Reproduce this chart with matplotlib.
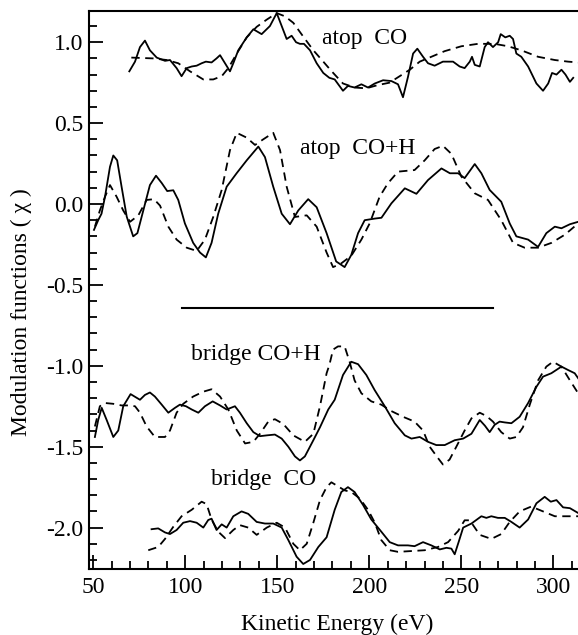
# modulation functions chi(E), atop / bridge CO and CO+H
import matplotlib
matplotlib.use("Agg")
import matplotlib.pyplot as plt
from matplotlib.ticker import MultipleLocator

plt.rcParams["font.family"] = ["Liberation Serif", "DejaVu Serif"]
plt.rcParams["font.size"] = 17
plt.rcParams["lines.scale_dashes"] = False
plt.rcParams["axes.unicode_minus"] = False

# atop CO
atop_co_exp_e = [69.6, 72.7, 75.4, 78.1, 80.8, 84.5, 89.0, 91.7, 95.3, 98.0, 100.8, 103.5, 106.2, 108.9,
                 111.2, 114.3, 117.0, 118.9, 121.6, 124.3, 126.1, 128.8, 133.4, 137.0, 141.5, 146.0,
                 149.7, 152.4, 155.1, 157.8, 160.2, 162.3, 164.5, 167.8, 171.4, 175.0, 178.3, 181.2,
                 185.7, 188.4, 192.0, 195.7, 199.3, 203.0, 207.5, 212.0, 215.6, 218.3, 221.0, 223.8,
                 226.1, 229.2, 231.9, 235.5, 240.0, 245.5, 249.1, 251.8, 254.6, 255.8, 257.3, 260.0,
                 262.7, 264.5, 267.2, 270.0, 271.4, 273.9, 276.3, 278.1, 279.9, 282.6, 286.3, 290.8,
                 294.4, 297.2, 299.3, 301.7, 304.4, 306.6, 309.0, 310.8]
atop_co_exp = [0.82, 0.88, 0.97, 1.01, 0.95, 0.905, 0.885, 0.89, 0.84, 0.79, 0.84, 0.85, 0.855, 0.87,
               0.88, 0.875, 0.90, 0.92, 0.87, 0.82, 0.87, 0.95, 1.03, 1.08, 1.05, 1.10,
               1.18, 1.10, 1.02, 1.04, 1.00, 0.99, 0.99, 0.95, 0.87, 0.81, 0.78, 0.77,
               0.70, 0.73, 0.72, 0.74, 0.72, 0.745, 0.765, 0.76, 0.74, 0.66, 0.785, 0.93,
               0.96, 0.91, 0.87, 0.855, 0.88, 0.88, 0.85, 0.84, 0.88, 0.91, 0.86, 0.85,
               0.97, 1.00, 0.97, 1.00, 1.05, 1.03, 1.04, 1.02, 0.93, 0.91, 0.85, 0.745,
               0.70, 0.745, 0.81, 0.80, 0.83, 0.80, 0.755, 0.78]
atop_co_th_e = [70.7, 82.5, 89.9, 96.2, 102.6, 109.8, 115.2, 119.8, 123.4, 128.0, 133.4, 138.8, 144.3,
                149.7, 154.2, 158.7, 164.1, 169.6, 175.0, 178.8, 181.2, 185.7, 192.0, 198.3, 204.6,
                211.0, 216.5, 222.0, 227.4, 233.7, 241.0, 250.0, 259.0, 268.1, 275.4, 282.6, 291.7,
                300.8, 308.0, 313.5]
atop_co_th = [0.905, 0.90, 0.89, 0.87, 0.82, 0.77, 0.77, 0.79, 0.84, 0.93, 1.03, 1.095, 1.14,
              1.18, 1.16, 1.12, 1.035, 0.95, 0.88, 0.83, 0.80, 0.745, 0.72, 0.715, 0.735,
              0.75, 0.79, 0.83, 0.88, 0.91, 0.945, 0.975, 0.99, 0.99, 0.975, 0.95, 0.91,
              0.89, 0.88, 0.875]

# atop CO+H
atop_coh_exp_e = [50.4, 52.7, 54.5, 56.4, 59.1, 60.9, 63.0, 65.4, 68.2, 71.7, 74.0, 77.2, 80.8, 84.1,
                  87.2, 90.2, 93.5, 96.2, 99.8, 104.3, 108.0, 111.2, 114.3, 117.9, 122.5, 127.9,
                  133.4, 139.7, 143.3, 147.8, 152.4, 156.9, 161.4, 166.8, 171.4, 176.8, 182.0,
                  186.6, 190.2, 193.9, 197.5, 203.0, 206.6, 212.0, 219.3, 225.6, 231.9, 239.2,
                  243.8, 248.3, 251.8, 257.3, 260.9, 265.4, 271.7, 276.3, 279.9, 286.3, 291.7,
                  296.2, 300.8, 304.4, 309.0, 313.5]
atop_coh_exp = [-0.16, -0.10, -0.06, 0.045, 0.23, 0.30, 0.27, 0.107, -0.078, -0.20, -0.18, -0.04, 0.117,
                0.175, 0.13, 0.08, 0.085, 0.025, -0.12, -0.24, -0.30, -0.33, -0.24, -0.06, 0.107,
                0.19, 0.27, 0.355, 0.29, 0.107, -0.06, -0.125, -0.04, 0.03, -0.02, -0.18, -0.355,
                -0.39, -0.315, -0.18, -0.10, -0.09, -0.085, 0.004, 0.097, 0.063, 0.148, 0.22,
                0.19, 0.19, 0.16, 0.247, 0.19, 0.087, 0.014, -0.12, -0.20, -0.22, -0.265,
                -0.18, -0.14, -0.15, -0.125, -0.11]
atop_coh_th_e = [50.9, 53.6, 56.4, 59.1, 62.7, 66.3, 70.0, 74.5, 79.0, 83.0, 86.3, 90.8, 95.3, 100.8,
                 106.2, 110.7, 115.2, 119.8, 124.3, 128.0, 133.4, 137.9, 142.4, 147.8, 151.5, 155.1,
                 159.6, 166.0, 171.4, 176.8, 180.3, 184.4, 190.2, 195.7, 200.2, 205.6, 210.1,
                 215.6, 224.6, 230.1, 235.5, 240.0, 244.6, 250.0, 257.3, 264.5, 271.7, 278.1,
                 284.4, 291.7, 299.0, 306.2, 313.5]
atop_coh_th = [-0.14, -0.04, 0.045, 0.117, 0.045, -0.04, -0.11, -0.07, 0.025, 0.03, -0.01, -0.14, -0.22,
               -0.27, -0.29, -0.22, -0.08, 0.087, 0.333, 0.44, 0.41, 0.365, 0.40, 0.44, 0.333, 0.107,
               -0.08, -0.07, -0.14, -0.30, -0.39, -0.37, -0.32, -0.22, -0.12, 0.045, 0.128,
               0.20, 0.21, 0.27, 0.34, 0.36, 0.31, 0.17, 0.066, 0.025, -0.10, -0.24,
               -0.27, -0.27, -0.24, -0.19, -0.12]

# bridge CO+H
br_coh_exp_e = [50.9, 52.7, 54.6, 57.3, 60.9, 63.6, 66.3, 70.3, 73.2, 75.4, 78.1, 80.8, 83.5, 87.2,
                90.8, 94.4, 97.1, 100.4, 103.5, 107.1, 110.7, 114.9, 118.9, 122.5, 127.0, 129.7,
                133.4, 137.0, 140.6, 144.3, 148.7, 152.4, 156.0, 159.6, 162.3, 165.0, 169.6, 173.2,
                177.7, 181.2, 185.7, 190.2, 193.9, 198.4, 202.9, 208.4, 213.8, 219.3, 222.9, 227.4,
                231.9, 236.4, 241.0, 246.4, 251.0, 255.5, 260.0, 262.8, 265.4, 268.1, 270.8, 273.6,
                277.2, 281.7, 286.3, 290.8, 294.4, 298.9, 304.4, 308.0, 311.6, 313.5]
br_coh_exp = [-1.44, -1.335, -1.26, -1.335, -1.44, -1.40, -1.25, -1.175, -1.195, -1.21, -1.18, -1.165,
              -1.19, -1.24, -1.29, -1.26, -1.24, -1.25, -1.27, -1.29, -1.25, -1.22, -1.245, -1.27,
              -1.25, -1.29, -1.355, -1.41, -1.435, -1.43, -1.425, -1.45, -1.50, -1.56, -1.585,
              -1.56, -1.46, -1.38, -1.27, -1.21, -1.057, -0.975, -0.99, -1.057, -1.15, -1.25,
              -1.355, -1.43, -1.45, -1.44, -1.47, -1.49, -1.49, -1.46, -1.45, -1.42, -1.335,
              -1.37, -1.41, -1.365, -1.345, -1.35, -1.355, -1.315, -1.23, -1.13, -1.067, -1.046,
              -1.005, -1.026, -1.046, -1.077]
br_coh_th_e = [50.9, 53.6, 56.4, 60.9, 65.4, 69.0, 72.7, 75.4, 79.0, 83.5, 89.0, 91.7, 95.3, 98.9,
               104.3, 109.8, 114.3, 118.9, 123.4, 128.0, 132.5, 137.0, 140.6, 145.1, 148.7, 153.3,
               158.7, 165.0, 169.6, 173.2, 176.8, 178.3, 180.3, 183.0, 186.6, 189.3, 192.0, 195.7,
               201.1, 206.5, 212.0, 218.3, 224.6, 229.2, 232.8, 237.3, 240.0, 243.6, 247.3, 251.8,
               255.5, 260.0, 263.6, 267.2, 271.7, 276.3, 279.9, 283.5, 287.2, 291.7, 296.2, 299.8,
               304.4, 309.0, 313.5]
br_coh_th = [-1.375, -1.25, -1.23, -1.235, -1.245, -1.245, -1.25, -1.29, -1.375, -1.44, -1.44, -1.40,
             -1.29, -1.235, -1.19, -1.16, -1.145, -1.19, -1.27, -1.40, -1.48, -1.47, -1.42, -1.345,
             -1.33, -1.36, -1.43, -1.47, -1.42, -1.25, -1.046, -0.995, -0.90, -0.88, -0.88, -0.975,
             -1.09, -1.17, -1.22, -1.24, -1.28, -1.315, -1.345, -1.40, -1.50, -1.57, -1.61, -1.58,
             -1.50, -1.40, -1.325, -1.29, -1.31, -1.345, -1.41, -1.45, -1.44, -1.38, -1.24, -1.09,
             -1.005, -0.975, -1.005, -1.09, -1.17]

# bridge CO
br_co_exp_e = [81.7, 85.3, 89.0, 91.7, 95.3, 98.9, 102.6, 106.2, 109.8, 112.5, 114.3, 117.0, 119.8,
               122.5, 126.1, 130.6, 134.2, 138.8, 143.3, 147.8, 152.4, 156.0, 160.5, 164.1, 167.8,
               172.3, 176.8, 181.2, 184.8, 188.4, 192.0, 196.6, 201.1, 206.5, 211.1, 215.6, 221.0,
               224.6, 229.2, 233.7, 238.3, 241.9, 244.6, 246.4, 248.8, 251.0, 255.5, 260.9, 263.6,
               266.3, 269.9, 273.6, 277.2, 281.7, 286.3, 290.8, 295.3, 298.6, 301.7, 305.3, 309.0,
               313.5]
br_co_exp = [-2.01, -2.005, -2.03, -2.04, -2.015, -1.97, -1.96, -1.97, -2.0, -1.953, -1.945, -2.015,
             -1.98, -2.0, -1.93, -1.90, -1.915, -1.965, -1.975, -1.975, -2.0, -2.077, -2.18, -2.225,
             -2.20, -2.12, -2.06, -1.89, -1.78, -1.75, -1.78, -1.86, -1.95, -2.025, -2.09, -2.11,
             -2.11, -2.115, -2.09, -2.11, -2.135, -2.125, -2.13, -2.165, -2.08, -2.0, -1.975,
             -1.93, -1.94, -1.93, -1.94, -1.94, -1.965, -2.0, -1.95, -1.85, -1.81, -1.84, -1.83,
             -1.875, -1.88, -1.91]
br_co_th_e = [79.9, 85.3, 89.0, 93.5, 98.0, 103.5, 108.9, 111.6, 114.3, 117.9, 121.6, 126.1, 129.7,
              134.2, 138.8, 144.3, 149.7, 154.2, 158.7, 162.3, 166.0, 169.6, 173.2, 176.8, 179.4,
              183.0, 186.6, 190.2, 194.8, 199.3, 203.0, 206.5, 211.1, 215.6, 222.9, 230.1, 237.3,
              242.8, 248.3, 251.8, 254.6, 260.0, 266.3, 271.7, 276.3, 281.7, 288.0, 294.4, 300.8,
              308.0, 313.5]
br_co_th = [-2.14, -2.12, -2.07, -1.995, -1.93, -1.89, -1.84, -1.855, -1.95, -2.025, -2.065, -2.015,
            -1.985, -2.0, -2.045, -2.0, -1.97, -2.0, -2.10, -2.14, -2.10, -1.97, -1.83, -1.75, -1.72,
            -1.745, -1.77, -1.78, -1.82, -1.89, -1.97, -2.077, -2.14, -2.15, -2.145, -2.14, -2.12,
            -2.09, -2.02, -1.955, -1.955, -2.045, -2.07, -2.04, -1.965, -1.90, -1.87, -1.90, -1.93,
            -1.93, -1.93]

sep_e = [98, 267]
sep_y = [-0.645, -0.645]

labels = ["atop  CO", "atop  CO+H", "bridge CO+H", "bridge  CO"]
label_e = [197.5, 193.5, 138.5, 142.5]
label_y = [1.02, 0.345, -0.93, -1.70]

fig = plt.figure(figsize=(5.78, 6.35), dpi=100)
ax = fig.add_axes([89/578, 1 - 569/635, 496/578, 558/635])

lw = 1.3
dash = (6, 4)
pairs = [(atop_co_exp_e, atop_co_exp, atop_co_th_e, atop_co_th),
         (atop_coh_exp_e, atop_coh_exp, atop_coh_th_e, atop_coh_th),
         (br_coh_exp_e, br_coh_exp, br_coh_th_e, br_coh_th),
         (br_co_exp_e, br_co_exp, br_co_th_e, br_co_th)]
for xe, ye, xt, yt in pairs:
    ax.plot(xe, ye, color="black", lw=lw, solid_joinstyle="round")
    ax.plot(xt, yt, color="black", lw=lw, ls=(0, dash))

ax.plot(sep_e, sep_y, color="black", lw=1.5)

for s, x, y in zip(labels, label_e, label_y):
    ax.text(x, y, s, ha="center", va="center")

ax.set_xlim(47.7, 317.2)
ax.set_ylim(-2.256, 1.193)
ax.xaxis.set_major_locator(MultipleLocator(50))
ax.xaxis.set_minor_locator(MultipleLocator(10))
ax.yaxis.set_major_locator(MultipleLocator(0.5))
ax.yaxis.set_minor_locator(MultipleLocator(0.1))
ax.tick_params(which="both", direction="in", width=1.3, top=False, right=False)
ax.tick_params(which="major", length=10)
ax.tick_params(axis="y", which="major", pad=4)
ax.tick_params(axis="x", which="major", pad=6)
ax.tick_params(which="minor", length=5.5)
for sp in ax.spines.values():
    sp.set_linewidth(1.5)

ax.set_xlabel("Kinetic Energy (eV)", labelpad=11)
ax.set_ylabel("Modulation functions ( χ )")
ax.yaxis.set_label_coords(-0.115, 0.46)

fig.savefig("out.png", dpi=100)
